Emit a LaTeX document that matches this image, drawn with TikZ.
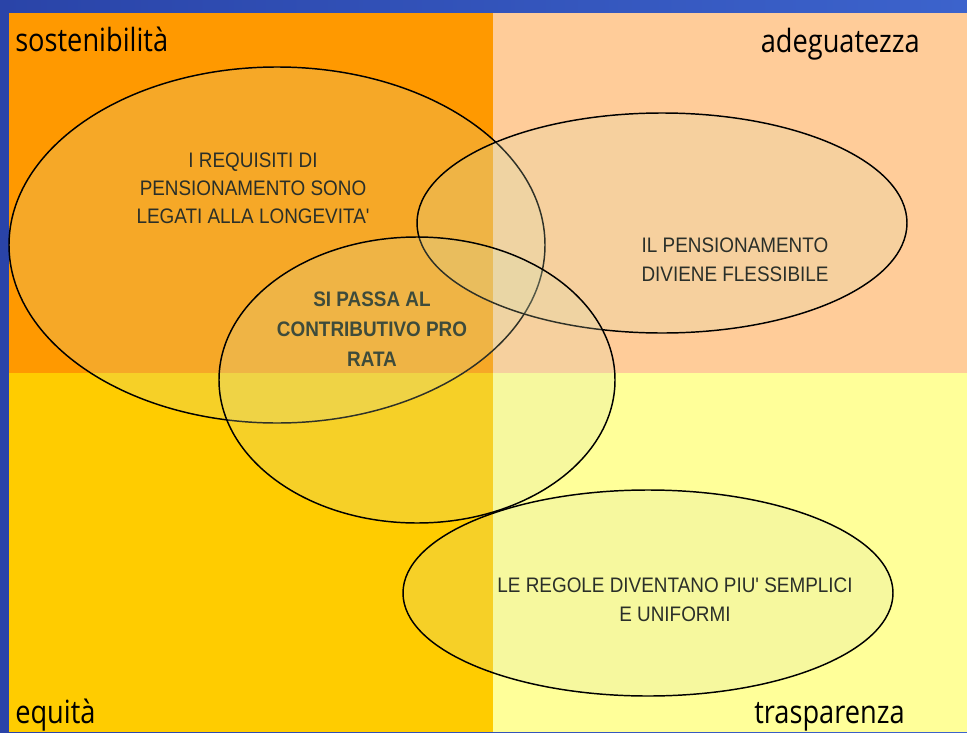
\documentclass[tikz,border=0pt]{standalone}
\usepackage{fontspec}
\usetikzlibrary{shapes.geometric}
\newfontfamily\labelfont[FakeStretch=0.85]{Open Sans}
\newfontfamily\ellfont[FakeStretch=0.9,Ligatures=TeXOff]{Liberation Sans}
\definecolor{blueL}{HTML}{2A44A8}
\definecolor{blueR}{HTML}{3C63CC}
\definecolor{qorange}{HTML}{FF9900}
\definecolor{qpeach}{HTML}{FFCC99}
\definecolor{qgold}{HTML}{FFCC00}
\definecolor{qyellow}{HTML}{FFFF99}
\definecolor{ellfill}{RGB}{215,225,180}
\definecolor{txt}{HTML}{2A2F29}
\definecolor{txtb}{HTML}{3E4B3B}
\begin{document}
\begin{tikzpicture}[x=0.75pt,y=-0.75pt,
  ell/.style={shape=ellipse,draw=black,line width=1.1pt,fill=ellfill,fill opacity=0.22,draw opacity=1,inner sep=0pt},
  corner/.style={font=\labelfont\fontsize{24}{30}\selectfont,text=black,inner sep=0pt},
  elltext/.style={font=\ellfont\fontsize{15.75}{21.75}\selectfont,text=txt,align=center,inner sep=0pt},
  elltextb/.style={font=\ellfont\bfseries\fontsize{15.75}{22.5}\selectfont,text=txtb,align=center,inner sep=0pt}]
\useasboundingbox (0,0) rectangle (967,732);
\shade[left color=blueL,right color=blueR] (0,0) rectangle (967,732);
\fill[qorange] (9,13) rectangle (493,373);
\fill[qpeach] (493,13) rectangle (967,373);
\fill[qgold] (9,373) rectangle (493,732);
\fill[qyellow] (493,373) rectangle (967,732);
\node[ell,minimum width=402pt,minimum height=267pt] (e1) at (277,245) {};
\node[ell,minimum width=367.5pt,minimum height=165pt] (e2) at (662,223) {};
\node[ell,minimum width=297pt,minimum height=214.5pt] (e3) at (417,380) {};
\node[ell,minimum width=367.5pt,minimum height=154.5pt] (e4) at (648,593) {};
\node[corner,anchor=base west] (sost) at (15,51) {sostenibilità};
\node[corner,anchor=base east] (adeg) at (920,52) {adeguatezza};
\node[corner,anchor=base west] (equi) at (15,723) {equità};
\node[corner,anchor=base east] (tras) at (905,723) {trasparenza};
\node[elltext,font=\ellfont\fontsize{15.75}{21}\selectfont] (t1) at (253,188) {I REQUISITI DI\\PENSIONAMENTO SONO\\LEGATI ALLA LONGEVITA'};
\node[elltext] (t2) at (735,260) {IL PENSIONAMENTO\\DIVIENE FLESSIBILE};
\node[elltextb] (t3) at (372,329.5) {SI PASSA AL\\CONTRIBUTIVO PRO\\RATA};
\node[elltext] (t4) at (675,600) {LE REGOLE DIVENTANO PIU' SEMPLICI\\E UNIFORMI};
\end{tikzpicture}
\end{document}
